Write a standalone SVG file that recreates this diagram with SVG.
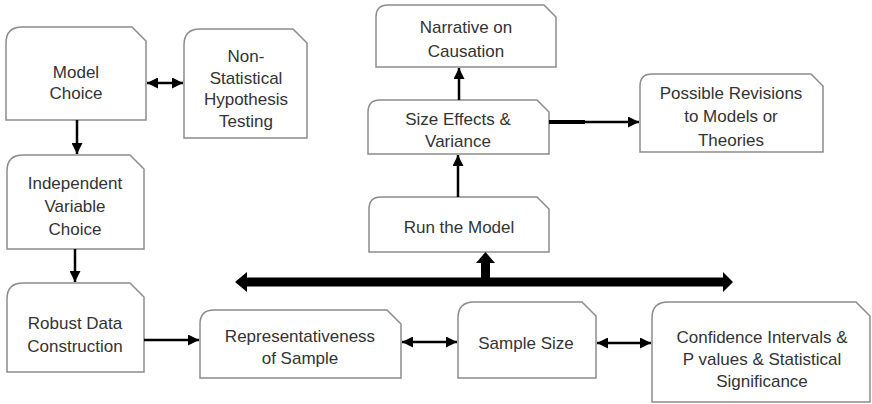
<svg xmlns="http://www.w3.org/2000/svg" width="872" height="404" viewBox="0 0 872 404">
<style>
.box{fill:#fff;stroke:#8c8c8c;stroke-width:1.5}
.t{font-family:"Liberation Sans",Arial,sans-serif;font-size:17px;fill:#333;text-anchor:middle}
.c{stroke:#000;stroke-width:2.5;fill:none}
.big{fill:#000}
</style>
<defs>
<marker id="ah" viewBox="0 0 10 10" refX="10" refY="5" markerWidth="11" markerHeight="11" markerUnits="userSpaceOnUse" orient="auto-start-reverse">
<path d="M0,0 L10,5 L0,10 z" fill="#000"/>
</marker>
</defs>
<rect width="872" height="404" fill="#fff"/>
<g id="model">
<path class="box" d="M6,120 L6,43 Q6,27 22,27 L132,27 L146,41 L146,120 Z"/>
<text class="t" x="76" y="78">Model</text>
<text class="t" x="76" y="99">Choice</text>
</g>
<g id="nonstat">
<path class="box" d="M184,138 L184,45 Q184,29 200,29 L293,29 L307,43 L307,138 Z"/>
<text class="t" x="246" y="62">Non-</text>
<text class="t" x="246" y="84">Statistical</text>
<text class="t" x="246" y="105">Hypothesis</text>
<text class="t" x="246" y="127">Testing</text>
</g>
<g id="indep">
<path class="box" d="M7,249 L7,171 Q7,155 23,155 L130,155 L144,169 L144,249 Z"/>
<text class="t" x="75" y="189">Independent</text>
<text class="t" x="75" y="212">Variable</text>
<text class="t" x="75" y="235">Choice</text>
</g>
<g id="robust">
<path class="box" d="M7,372 L7,299 Q7,283 23,283 L130,283 L144,297 L144,372 Z"/>
<text class="t" x="75" y="329">Robust Data</text>
<text class="t" x="75" y="352">Construction</text>
</g>
<g id="repr">
<path class="box" d="M200,378 L200,324 Q200,310 214,310 L387,310 L401,324 L401,378 Z"/>
<text class="t" x="300" y="342">Representativeness</text>
<text class="t" x="300" y="364">of Sample</text>
</g>
<g id="sample">
<path class="box" d="M458,378 L458,318 Q458,302 474,302 L582,302 L596,316 L596,378 Z"/>
<text class="t" x="526" y="349">Sample Size</text>
</g>
<g id="conf">
<path class="box" d="M652,402 L652,318 Q652,302 668,302 L856,302 L870,316 L870,402 Z"/>
<text class="t" x="762" y="343">Confidence Intervals &amp;</text>
<text class="t" x="762" y="365">P values &amp; Statistical</text>
<text class="t" x="762" y="387">Significance</text>
</g>
<g id="run">
<path class="box" d="M369,252 L369,209 Q369,197 381,197 L537,197 L549,209 L549,252 Z"/>
<text class="t" x="459" y="233">Run the Model</text>
</g>
<g id="size">
<path class="box" d="M368,154 L368,112 Q368,100 380,100 L537,100 L549,112 L549,154 Z"/>
<text class="t" x="458" y="125">Size Effects &amp;</text>
<text class="t" x="458" y="147">Variance</text>
</g>
<g id="narr">
<path class="box" d="M376,67 L376,17 Q376,5 388,5 L544,5 L556,17 L556,67 Z"/>
<text class="t" x="466" y="33">Narrative on</text>
<text class="t" x="466" y="57">Causation</text>
</g>
<g id="poss">
<path class="box" d="M640,152 L640,86 Q640,74 652,74 L811,74 L823,86 L823,152 Z"/>
<text class="t" x="731" y="99">Possible Revisions</text>
<text class="t" x="731" y="122">to Models or</text>
<text class="t" x="731" y="146">Theories</text>
</g>
<g id="connectors">
<line class="c" x1="147" y1="83" x2="183" y2="83" marker-start="url(#ah)" marker-end="url(#ah)"/>
<line class="c" x1="77" y1="120" x2="77" y2="154" marker-end="url(#ah)"/>
<line class="c" x1="75" y1="249" x2="75" y2="282" marker-end="url(#ah)"/>
<line class="c" x1="144" y1="340" x2="199" y2="340" marker-end="url(#ah)"/>
<line class="c" x1="402" y1="342" x2="457" y2="342" marker-start="url(#ah)" marker-end="url(#ah)"/>
<line class="c" x1="597" y1="343" x2="651" y2="343" marker-start="url(#ah)" marker-end="url(#ah)"/>
<line class="c" x1="458" y1="197" x2="458" y2="155" stroke-width="3.5" marker-end="url(#ah)"/>
<line class="c" x1="459" y1="100" x2="459" y2="68" marker-end="url(#ah)"/>
<path d="M549,122 L585,122" stroke="#000" stroke-width="4" fill="none"/>
<line class="c" x1="584" y1="122" x2="639" y2="122" marker-end="url(#ah)"/>
<polygon class="big" points="235,282 247,272 247,277.5 723,277.5 723,272 733,282 723,292 723,286.5 247,286.5 247,292"/>
<polygon class="big" points="481,278 481,263 476,263 485.5,252 495,263 490,263 490,278"/>
</g>
</svg>
